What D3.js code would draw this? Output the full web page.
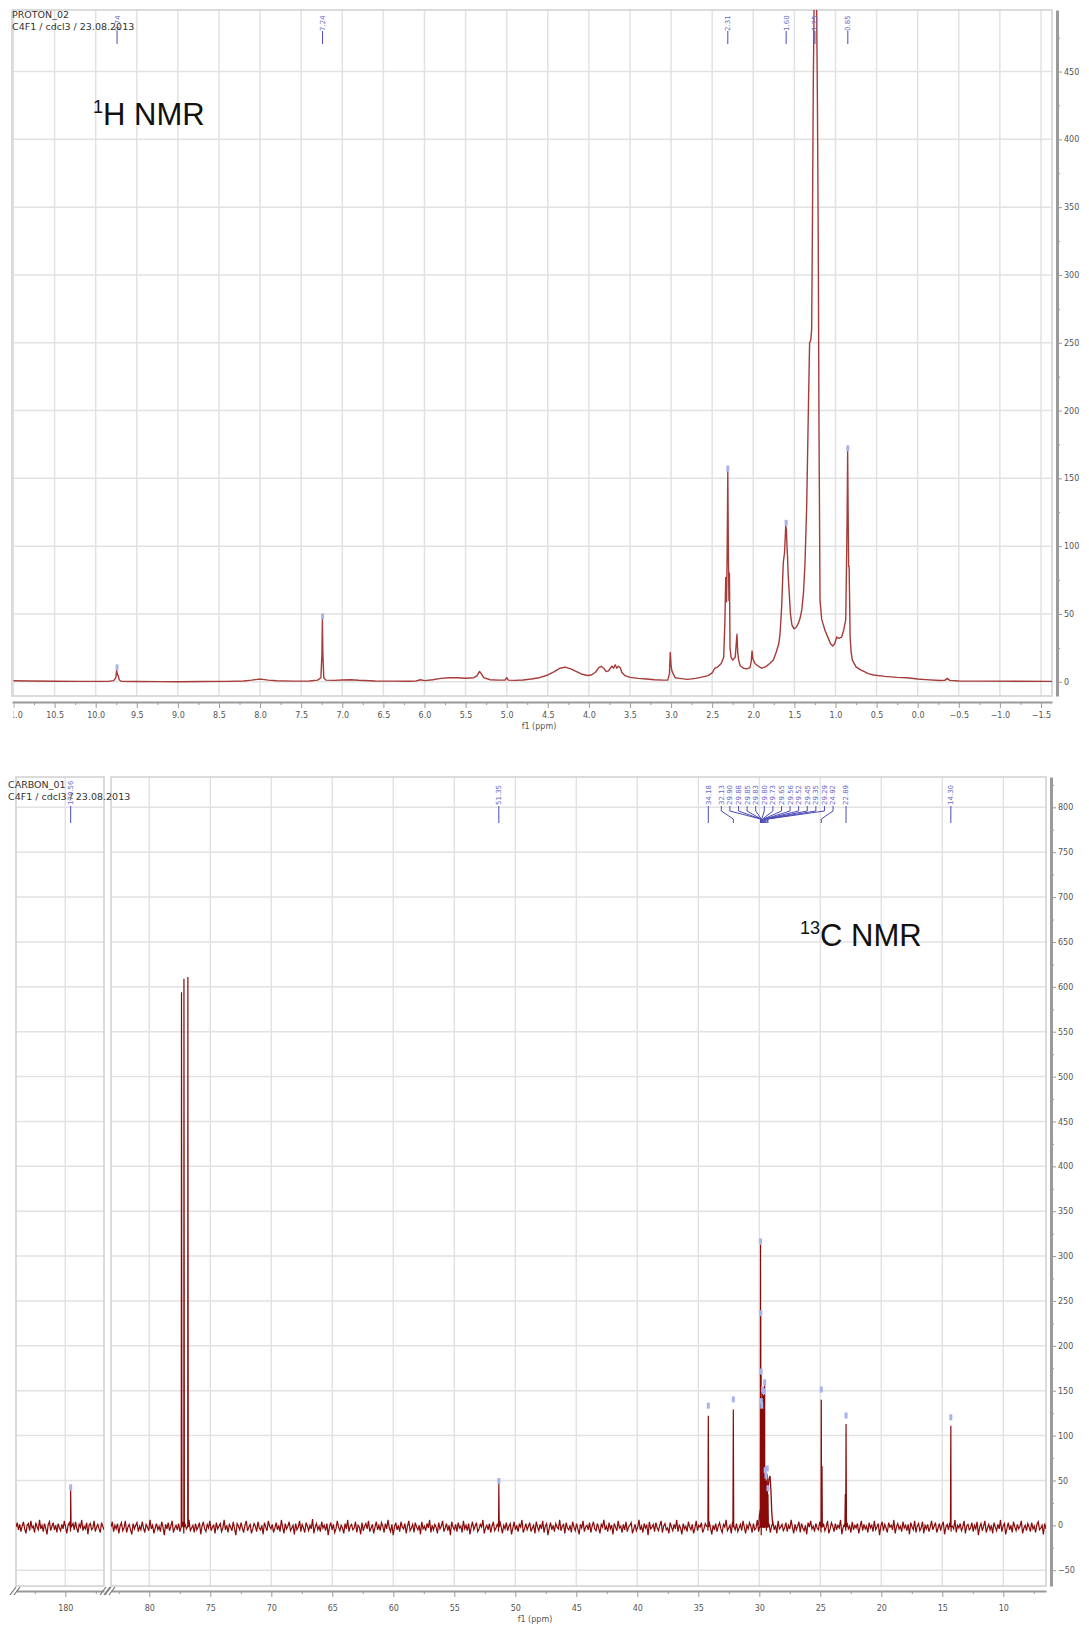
<!DOCTYPE html>
<html>
<head>
<meta charset="utf-8">
<script src="https://cdn.jsdelivr.net/npm/d3@7"></script>
<title>1H / 13C NMR</title>
<style>
  body { margin: 0; background: #fff; }
  svg text { font-family: "DejaVu Sans", sans-serif; }
  .axis path, .axis line { stroke: #9a9a9a; }
  .axis text { fill: #555; font-size: 8px; }
</style>
</head>
<body>
<div class="chart"></div>
<script>
// ---------------- data ----------------
// 1H trace: [ppm, intensity]
var hTrace = [
  [11.0,0.8],[10.8,0.6],[10.5,0.4],[10.2,0.3],[10.0,0.3],[9.85,0.3],[9.78,0.8],[9.755,3],[9.745,8.4],[9.735,5],
  [9.725,4.5],[9.715,1.5],[9.69,0.4],[9.5,0.2],[9.2,0.1],[9.0,0],[8.7,0.2],[8.4,0.3],[8.2,0.6],[8.1,1.2],
  [8.03,1.8],[7.97,1.8],[7.9,1.2],[7.8,0.7],[7.6,0.5],[7.4,0.6],[7.3,1.2],[7.26,3],[7.248,20],[7.242,46],
  [7.236,20],[7.225,3],[7.2,1.2],[7.1,1],[7.0,1.3],[6.9,1.5],[6.8,1.1],[6.6,0.6],[6.4,0.5],[6.2,0.4],
  [6.1,0.6],[6.05,1.5],[6.0,0.8],[5.9,1.5],[5.8,2.5],[5.7,3],[5.6,3],[5.5,2.6],[5.4,3],[5.36,4.5],
  [5.33,7.6],[5.31,6],[5.28,3],[5.2,1.5],[5.1,1.2],[5.02,1.2],[5.0,3],[4.98,1.2],[4.9,1],[4.8,1.3],
  [4.7,2],[4.6,3],[4.5,5],[4.42,7.5],[4.35,10],[4.29,10.8],[4.22,9.5],[4.15,7.5],[4.08,5.5],[4.02,4.6],
  [3.97,5],[3.92,7],[3.88,10.5],[3.85,11.4],[3.82,10],[3.79,7.5],[3.76,8],[3.74,10],[3.72,11.5],[3.70,10],
  [3.68,12.5],[3.66,10],[3.64,11.5],[3.62,10.5],[3.6,7],[3.56,4.5],[3.5,3.2],[3.4,2.5],[3.3,2],[3.2,1.5],
  [3.1,1.2],[3.04,1.2],[3.02,6],[3.01,21.7],[3.0,12],[2.99,8],[2.975,6],[2.95,3],[2.9,2.5],[2.8,1.8],
  [2.7,2.5],[2.6,3.8],[2.55,4.5],[2.5,6.5],[2.47,9.8],[2.43,11],[2.39,13.5],[2.36,18],[2.345,45],[2.335,77],
  [2.325,59],[2.318,95],[2.31,155],[2.303,95],[2.296,60],[2.29,80],[2.283,25],[2.27,18],[2.25,16],[2.22,18],
  [2.205,30],[2.198,35],[2.19,22],[2.178,16],[2.16,12],[2.12,10],[2.08,9.5],[2.04,10.5],[2.025,15],[2.015,22.7],
  [2.005,17],[1.98,13.5],[1.95,12],[1.9,10],[1.85,11],[1.8,13.5],[1.756,16],[1.72,22],[1.69,28],[1.675,35],
  [1.655,55],[1.635,88],[1.62,95],[1.605,115],[1.597,112],[1.59,100],[1.583,92],[1.575,78],[1.565,68],[1.548,50],
  [1.53,42],[1.505,39],[1.48,40],[1.452,43],[1.43,47],[1.41,53],[1.39,65],[1.371,87],[1.35,130],[1.33,200],
  [1.315,250],[1.30,252],[1.29,260],[1.28,340],[1.27,440],[1.26,500],[1.25,520],[1.24,520],[1.23,500],[1.22,430],
  [1.21,330],[1.20,180],[1.188,60],[1.168,46],[1.128,38],[1.087,32],[1.06,28],[1.034,26.4],[1.01,28],[0.985,33],
  [0.96,32],[0.925,33],[0.9,38],[0.875,46],[0.866,85],[0.858,125],[0.852,170],[0.846,125],[0.84,85],[0.834,85],
  [0.828,60],[0.822,33],[0.81,22],[0.795,16],[0.75,11],[0.7,9],[0.6,6],[0.54,5],[0.4,4],[0.25,3.2],
  [0.134,3],[0.0,2],[-0.1,1.6],[-0.27,0.9],[-0.33,1],[-0.36,2.5],[-0.39,1],[-0.5,0.6],[-0.8,0.5],[-1.2,0.4],
  [-1.65,0.3]
];
var hLabels = ['9.74', '7.24', '2.31', '1.60', '1.25', '0.85'];
var hLabelTops = [8.4, 46, 155, 115, 520, 170];

// 13C peaks
var cPeakPpm =    [179.56, 77.36, 77.16, 76.84, 51.35, 34.18, 32.13, 29.90, 29.88, 29.85, 29.83, 29.80,
                   29.73, 29.65, 29.56, 29.52, 29.45, 29.35, 29.29, 24.92, 24.86, 22.95, 22.89, 14.30];
var cPeakHeight = [39, 594, 609, 611, 46, 122, 129, 313, 233, 168, 133, 128,
                   148, 145, 156, 55, 50, 57, 35, 140, 66, 35, 113, 111];
var cLabels = ['179.56', '51.35', '34.18', '32.13', '29.90', '29.88', '29.85', '29.83', '29.80', '29.73',
               '29.65', '29.56', '29.52', '29.45', '29.35', '29.29', '24.92', '22.89', '14.30'];
var cLabelTops = [39, 46, 130, 137, 313, 233, 168, 135, 130, 148, 146, 156, 58, 52, 60, 38, 148, 119, 117];

// broad hump under the 29-30 ppm cluster
var cHumpPpm = [30.05, 29.98, 29.9, 29.7, 29.5, 29.4, 29.3, 29.2, 29.12, 29.05, 28.98, 28.9];
var cHumpVal = [0, 12, 18, 20, 22, 30, 40, 52, 55, 40, 15, 0];

// baseline noise, right segment (83 -> 6.5 ppm) and left segment (184 -> 176.8 ppm)
var cNoiseRight = [
  -2,4,-7,0,-4,2,-9,-1,3,-6,-3,5,-8,-2,1,-5,-10,2,-4,0,
  3,-7,-1,-5,4,-3,-8,1,-2,-6,6,-4,0,-9,-3,2,-5,-1,-7,4,
  -2,-11,1,-4,3,-6,-1,5,-8,-3,0,-5,2,-7,-2,4,-9,1,-4,-1,
  6,-6,-3,0,-8,2,-5,-2,3,-10,-1,4,-4,-7,1,-3,5,-6,-2,0,
  -9,3,-4,-1,2,-7,-3,6,-5,0,-8,1,-2,-6,4,-4,-11,2,-1,-5,
  3,-3,-8,0,5,-6,-2,1,-9,-4,2,-1,-7,4,-3,-5,0,-10,3,-2,
  -6,5,-1,-4,1,-8,-3,3,-5,0,-7,6,-2,-9,2,-4,-1,4,-6,-3,
  0,-10,2,-5,-2,5,-7,1,-3,-8,3,-1,-6,0,-4,7,-9,-2,2,-5,
  -1,-7,4,-3,0,-6,2,-11,-2,3,-5,1,-8,-4,5,-2,-6,0,-3,-9,
  2,-4,6,-7,-1,1,-5,-3,4,-8,0,-2,-10,3,-6,-1,2,-4,5,-7,
  -3,1,-9,-2,4,-5,0,-6,3,-1,-8,2,-4,6,-3,-7,1,-11,-2,3,
  -5,0,-7,4,-2,-4,2,-9,-1,5,-6,-3,1,-8,3,-2,-5,0,-10,4,
  -4,-1,-6,2,-3,6,-8,0,-5,1,-2,-9,3,-4,-1,5,-7,-3,2,-6,
  0,-11,4,-2,-5,1,-7,3,-3,-1,-8,5,-4,0,-6,2,-10,-2,4,-5,
  -1,3,-7,-4,1,-2,6,-9,-3,0,-5,2,-8,-1,4,-6,-3,1,-7,5,
  -2,-9,0,-4,3,-6,-1,2,-10,-3,4,-5,0,-7,1,-2,6,-8,-4,2,
  -5,-1,3,-7,-3,0,-9,4,-2,-6,1,-4,5,-8,-1,2,-11,-3,3,-5,
  0,-7,2,-2,-4,6,-6,-1,1,-9,3,-3,-5,0,-8,4,-2,-6,2,-4,
  -10,1,-3,5,-7,-2,0,-5,3,-8,-1,4,-4,-6,2,-3,-9,1,-2,6,
  -5,-1,-7,3,-4,0,-10,2,-2,-6,5,-3,-1,-8,1,-5,4,-7,-2,0,
  3,-9,-4,1,-6,-2,6,-5,-1,-8,2,-3,0,-11,4,-4,-2,1,-7,3,
  -3,-6,0,5,-8,-1,2,-5,-3,-9,3,-2,-6,1,-4,6,-7,0,-3,-10,
  2,-4,-1,-7,4,-2,-5,1,-9,-3,5,-6,0,-2,3,-8,-4,2,-1,-6,
  4,-3,-10,0,-5,2,-7,-1,3,-4,-8,1,-2,6,-6,-3,0,-9,4,-1,
  -5,2,-7,-3,1,-6,5,-2,-9,0,-4,3,-1,-8,2,-5,-3,6,-7,0,
  -11,1,-3,4,-6,-2,2,-8,-1,3,-5,0,-9,5,-4,-2,1,-6,-3,3,
  -7,0,-4,6,-2,-9,1,-5,-1,4,-8,2,-3,-6,0,-10,3,-2,5,-4,
  -1,-7,2,-3,-5,4,-8,0,1,-6,-2,5,-9,-4,3,-1,-7,2,-5,0,
  -3,6,-10,-2,1,-6,3,-4,-1,-8,4,-5,0,-3,2,-9,-2,5,-6,1,
  -4,-1,-8,3,-3,0,-7,5,-5,-2,2,-11,-1,4,-6,1,-3,-8,3,-2,
  0,-5,6,-9,-2,2,-4,-1,-7,4,-3,0,-6,1,-10,3,-2,-5,5,-8,
  -1,2,-6,-3,4,-9,0,-4,1,-7,-2,5,-5,-1,3,-8,-3,2,-6,0,
  4,-10,-2,1,-5,3,-7,-1,-4,6,-8,0,-3,2,-6,-2,5,-9,-1,1,
  -5,-3,3,-7,0,-4,4,-11,-2,2,-6,-1,5,-8,-3,1,-5,0,-9,3,
  -2,-6,1,-4,6,-7,-1,2,-10,-3,3,-5,0,-8,4,-2,-6,1,-4,-1,
  5,-9,-3,0,-6,2,-2,-7,3,-4,-1,-8,1,4,-5,-3,0,-10,2,-4
];
var cNoiseLeft = [
  -2,3,-5,1,-7,-1,4,-4,-9,0,2,-6,5,-3,-1,-8,3,-2,-5,6,-4,0,-7,2,-3,-10,1,4,-6,-1,3,-5,0,-8,2,-3,
  -6,1,-4,5,-2,-9,0,3,-7,-1,2,-5,4,-3,-8,1,-2,6,-6,-1,-4,3,-10,0,2,-5,-3,5,-7,-2,1,-4,-8,3,-1,-5
];

// ---------------- drawing ----------------
var svg = d3.select('.chart').append('svg')
  .attr('width', 1089).attr('height', 1625);

var traceH = '#a63c3a', traceC = '#8a0a0a', gridCol = '#e2e2e2', frameCol = '#cfcfcf';
var labelCol = '#6a6ac8', tipCol = '#aab2ee';

function styleAxis(g) {
  g.attr('class', 'axis');
  g.select('.domain').attr('stroke-width', 2);
}

function vGrid(g, scale, ticks, y0, y1) {
  g.append('g').selectAll('line').data(ticks).enter().append('line')
    .attr('x1', function(d) { return scale(d); }).attr('x2', function(d) { return scale(d); })
    .attr('y1', y0).attr('y2', y1)
    .attr('stroke', gridCol).attr('stroke-width', 1.5);
}
function hGrid(g, scale, ticks, x0, x1) {
  g.append('g').selectAll('line').data(ticks).enter().append('line')
    .attr('y1', function(d) { return scale(d); }).attr('y2', function(d) { return scale(d); })
    .attr('x1', x0).attr('x2', x1)
    .attr('stroke', gridCol).attr('stroke-width', 1.5);
}

// ======== 1H panel ========
var H = {left: 12, right: 1052, top: 10, bottom: 696};
var xH = d3.scaleLinear().domain([11.018, -1.634]).range([H.left, H.right]);
var yH = d3.scaleLinear().domain([-10.5, 495.4]).range([H.bottom, H.top]);
var gH = svg.append('g');

gH.append('clipPath').attr('id', 'clipH').append('rect')
  .attr('x', H.left).attr('y', H.top).attr('width', H.right - H.left).attr('height', H.bottom - H.top);
// clip for the bottom axis labels (in the axis group's own coordinates)
gH.append('clipPath').attr('id', 'clipHax').append('rect')
  .attr('x', 13.5).attr('y', -5).attr('width', 1070).attr('height', 40);

var hMajor = d3.range(-3, 23).map(function(d) { return d / 2; });
var hMinor = d3.range(-7, 44, 2).map(function(d) { return d / 4; })
  .filter(function(d) { return d > -1.634 && d < 11.018; });

vGrid(gH, xH, hMajor, H.top, H.bottom);
hGrid(gH, yH, d3.range(0, 451, 50), H.left, H.right);
gH.append('rect').attr('x', H.left).attr('y', H.top)
  .attr('width', H.right - H.left).attr('height', H.bottom - H.top)
  .attr('fill', 'none').attr('stroke', frameCol).attr('stroke-width', 1.5);

var lineH = d3.line().x(function(d) { return xH(d[0]); }).y(function(d) { return yH(d[1]); });
gH.append('path').datum(hTrace).attr('d', lineH)
  .attr('clip-path', 'url(#clipH)')
  .attr('fill', 'none').attr('stroke', traceH).attr('stroke-width', 1.4).attr('stroke-linejoin', 'round');

// peak labels
var hl = gH.append('g').selectAll('g').data(hLabels).enter().append('g');
hl.append('line')
  .attr('x1', function(d) { return xH(+d); }).attr('x2', function(d) { return xH(+d); })
  .attr('y1', 31).attr('y2', 44).attr('stroke', '#4b4bb5').attr('stroke-width', 1);
hl.append('text')
  .attr('transform', function(d) { return 'translate(' + xH(+d) + ',31) rotate(-90)'; })
  .attr('dy', '0.35em').attr('font-size', 7).attr('fill', labelCol).text(function(d) { return d; });
gH.append('g').attr('clip-path', 'url(#clipH)').selectAll('rect').data(hLabels).enter().append('rect')
  .attr('x', function(d) { return xH(+d) - 1.5; })
  .attr('y', function(d, i) { return yH(hLabelTops[i]) - 6; })
  .attr('width', 3).attr('height', 6).attr('fill', tipCol);

// axes
var axHMinor = gH.append('g').attr('transform', 'translate(0,702)')
  .call(d3.axisBottom(xH).tickValues(hMinor).tickSize(3).tickSizeOuter(0).tickFormat(''));
styleAxis(axHMinor);
var axH = gH.append('g').attr('transform', 'translate(0,702)').attr('clip-path', 'url(#clipHax)')
  .call(d3.axisBottom(xH).tickValues(hMajor).tickSize(6).tickSizeOuter(0).tickPadding(4).tickFormat(d3.format('.1f')));
styleAxis(axH);
axH.select('.domain').remove();

var ayH = gH.append('g').attr('transform', 'translate(1057,0)')
  .call(d3.axisRight(yH).tickValues(d3.range(0, 451, 50)).tickSize(5).tickSizeOuter(0).tickPadding(2));
styleAxis(ayH);
ayH.select('.domain').attr('stroke-width', 3);
gH.append('g').attr('class', 'axis').attr('transform', 'translate(1057,0)')
  .call(d3.axisRight(yH).tickValues(d3.range(25, 476, 50)).tickSize(3).tickSizeOuter(0).tickFormat(''))
  .select('.domain').remove();

gH.append('text').attr('x', 539).attr('y', 729).attr('text-anchor', 'middle')
  .attr('font-size', 8).attr('fill', '#555').text('f1 (ppm)');
gH.append('text').attr('x', 12).attr('y', 18).attr('font-size', 9.5).attr('fill', '#333').text('PROTON_02');
gH.append('text').attr('x', 12).attr('y', 30).attr('font-size', 9.5).attr('fill', '#333').text('C4F1 / cdcl3 / 23.08.2013');

var tH = gH.append('text').attr('x', 93).attr('y', 125)
  .style('font-family', '"Liberation Sans", Arial, sans-serif').attr('font-size', 31).attr('fill', '#111');
tH.append('tspan').attr('font-size', 18).attr('dy', -12).text('1');
tH.append('tspan').attr('dy', 12).text('H NMR');

// ======== 13C panel ========
var C = {top: 777, bottom: 1586, lLeft: 16, lRight: 104, rLeft: 111, rRight: 1046};
var xCL = d3.scaleLinear().domain([184.04, 176.83]).range([C.lLeft, C.lRight]);
var xCR = d3.scaleLinear().domain([83.14, 6.5]).range([C.rLeft, C.rRight]);
var yC = d3.scaleLinear().domain([-67.6, 833.8]).range([C.bottom, C.top]);
var gC = svg.append('g');

gC.append('clipPath').attr('id', 'clipCL').append('rect')
  .attr('x', C.lLeft).attr('y', C.top).attr('width', C.lRight - C.lLeft).attr('height', C.bottom - C.top);
gC.append('clipPath').attr('id', 'clipCR').append('rect')
  .attr('x', C.rLeft).attr('y', C.top).attr('width', C.rRight - C.rLeft).attr('height', C.bottom - C.top);

var cMajorR = d3.range(10, 81, 5), cMinorR = d3.range(7.5, 83, 5);
var cMajorL = [180], cMinorL = [182.5, 177.5];

vGrid(gC, xCL, cMajorL, C.top, C.bottom);
vGrid(gC, xCR, cMajorR, C.top, C.bottom);
hGrid(gC, yC, d3.range(-50, 801, 50), C.lLeft, C.lRight);
hGrid(gC, yC, d3.range(-50, 801, 50), C.rLeft, C.rRight);
[[C.lLeft, C.lRight], [C.rLeft, C.rRight]].forEach(function(s) {
  gC.append('rect').attr('x', s[0]).attr('y', C.top).attr('width', s[1] - s[0]).attr('height', C.bottom - C.top)
    .attr('fill', 'none').attr('stroke', frameCol).attr('stroke-width', 1.5);
});

function buildTrace(noise, scale) {
  var d = scale.domain(), n = noise.length, pts = [];
  noise.forEach(function(v, i) { pts.push([d[0] + (d[1] - d[0]) * i / (n - 1), v]); });
  cPeakPpm.forEach(function(p, i) {
    if (p > d[0] || p < d[1]) return;
    pts.push([p + 0.035, -2], [p, cPeakHeight[i]], [p - 0.035, -2]);
  });
  pts.sort(function(a, b) { return b[0] - a[0]; });
  return pts;
}
var lineCL = d3.line().x(function(d) { return xCL(d[0]); }).y(function(d) { return yC(d[1]); });
var lineCR = d3.line().x(function(d) { return xCR(d[0]); }).y(function(d) { return yC(d[1]); });

gC.append('path').datum(buildTrace(cNoiseLeft, xCL)).attr('d', lineCL).attr('clip-path', 'url(#clipCL)')
  .attr('fill', 'none').attr('stroke', traceC).attr('stroke-width', 1.2);
gC.append('path').datum(buildTrace(cNoiseRight, xCR)).attr('d', lineCR).attr('clip-path', 'url(#clipCR)')
  .attr('fill', 'none').attr('stroke', traceC).attr('stroke-width', 1.2);
gC.append('path').datum(cHumpPpm.map(function(p, i) { return [p, cHumpVal[i]]; })).attr('d', lineCR)
  .attr('fill', 'none').attr('stroke', traceC).attr('stroke-width', 1.3);

// peak labels, crowded ones spread evenly between their neighbours
function cx(ppm) { return ppm > 120 ? xCL(ppm) : xCR(ppm); }
var natural = cLabels.map(function(d) { return cx(+d); });
var slots = natural.slice();
var first = cLabels.indexOf('32.13'), last = cLabels.indexOf('24.92');
var s0 = natural[first - 1] + 13, s1 = natural[last + 1] - 13;
for (var k = first; k <= last; k++) slots[k] = s0 + (s1 - s0) * (k - first) / (last - first);

var cl = gC.append('g').selectAll('g').data(cLabels).enter().append('g');
cl.append('path')
  .attr('d', function(d, i) {
    var sx = slots[i], px = natural[i];
    return 'M' + sx + ',806V811L' + px + ',819V823';
  })
  .attr('fill', 'none').attr('stroke', '#4b4bb5').attr('stroke-width', 1);
cl.append('text')
  .attr('transform', function(d, i) { return 'translate(' + slots[i] + ',805) rotate(-90)'; })
  .attr('dy', '0.35em').attr('font-size', 7).attr('fill', labelCol).text(function(d) { return d; });
gC.append('g').selectAll('rect').data(cLabels).enter().append('rect')
  .attr('x', function(d, i) { return natural[i] - 1.5; })
  .attr('y', function(d, i) { return yC(cLabelTops[i]) - 6; })
  .attr('width', 3).attr('height', 6).attr('fill', tipCol);

// axes
function xAxisC(scale, major, minor) {
  var m = gC.append('g').attr('transform', 'translate(0,1591)')
    .call(d3.axisBottom(scale).tickValues(minor).tickSize(3).tickSizeOuter(0).tickFormat(''));
  styleAxis(m);
  var M = gC.append('g').attr('transform', 'translate(0,1591)')
    .call(d3.axisBottom(scale).tickValues(major).tickSize(6).tickSizeOuter(0).tickPadding(8).tickFormat(d3.format('d')));
  styleAxis(M);
  M.select('.domain').remove();
}
xAxisC(xCL, cMajorL, cMinorL);
xAxisC(xCR, cMajorR, cMinorR);
// break marks
[C.lLeft - 3, C.lRight - 1, C.rLeft - 3].forEach(function(bx) {
  [0, 4].forEach(function(o) {
    gC.append('line').attr('x1', bx + o - 3).attr('y1', 1595).attr('x2', bx + o + 3).attr('y2', 1587)
      .attr('stroke', '#777').attr('stroke-width', 1.2);
  });
});

var ayC = gC.append('g').attr('transform', 'translate(1051,0)')
  .call(d3.axisRight(yC).tickValues(d3.range(-50, 801, 50)).tickSize(5).tickSizeOuter(0).tickPadding(2));
styleAxis(ayC);
ayC.select('.domain').attr('stroke-width', 3);
gC.append('g').attr('class', 'axis').attr('transform', 'translate(1051,0)')
  .call(d3.axisRight(yC).tickValues(d3.range(-25, 826, 50)).tickSize(3).tickSizeOuter(0).tickFormat(''))
  .select('.domain').remove();

gC.append('text').attr('x', 535).attr('y', 1622).attr('text-anchor', 'middle')
  .attr('font-size', 8).attr('fill', '#555').text('f1 (ppm)');
gC.append('text').attr('x', 8).attr('y', 788).attr('font-size', 9.5).attr('fill', '#333').text('CARBON_01');
gC.append('text').attr('x', 8).attr('y', 800).attr('font-size', 9.5).attr('fill', '#333').text('C4F1 / cdcl3 / 23.08.2013');

var tC = gC.append('text').attr('x', 800).attr('y', 946)
  .style('font-family', '"Liberation Sans", Arial, sans-serif').attr('font-size', 31).attr('fill', '#111');
tC.append('tspan').attr('font-size', 18).attr('dy', -12).text('13');
tC.append('tspan').attr('dy', 12).text('C NMR');
</script>
</body>
</html>
